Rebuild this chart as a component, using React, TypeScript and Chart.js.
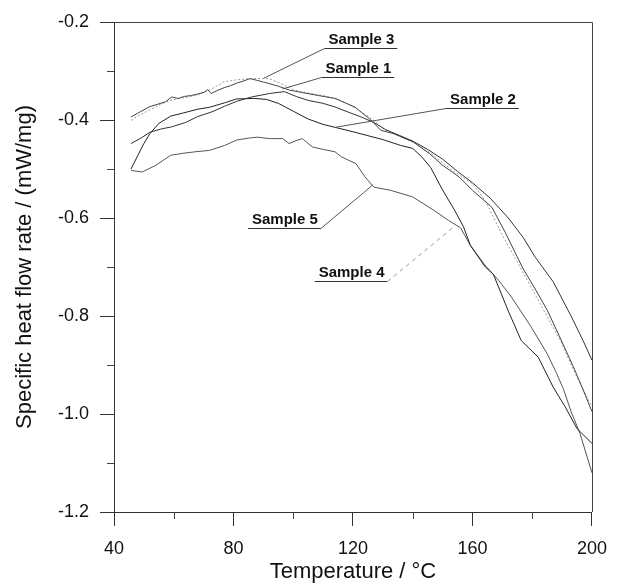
import React, { useEffect, useRef } from "react";
import { Chart, registerables } from "chart.js";

Chart.register(...registerables);

// ---- data ----
const S1_T = [45.7, 49, 52, 56, 59.3, 64, 68, 72.5, 77, 81, 86, 92, 97, 101, 105, 110, 114, 118, 122.8, 127, 131, 135, 140, 145, 150, 155, 160, 166, 172, 177, 181, 187, 193, 197, 200];
const S1_V = [-0.448, -0.437, -0.425, -0.418, -0.414, -0.405, -0.393, -0.384, -0.372, -0.362, -0.353, -0.346, -0.342, -0.352, -0.36, -0.366, -0.3735, -0.383, -0.394, -0.405, -0.42, -0.43, -0.443, -0.46, -0.48, -0.505, -0.528, -0.56, -0.6, -0.64, -0.68, -0.73, -0.8, -0.85, -0.89];

const S2_T = [45.7, 48, 50, 52, 55, 59, 63, 68, 72, 77, 81, 87, 91, 95, 100, 105, 110, 114, 120, 125, 130, 136, 140, 143, 146, 150, 154, 157, 159.3, 164.3, 167, 172, 176.3, 182, 187, 191, 195, 200];
const S2_V = [-0.5, -0.472, -0.448, -0.428, -0.407, -0.392, -0.386, -0.378, -0.374, -0.365, -0.357, -0.356, -0.358, -0.366, -0.382, -0.398, -0.409, -0.415, -0.424, -0.432, -0.44, -0.452, -0.458, -0.475, -0.497, -0.543, -0.584, -0.618, -0.656, -0.7, -0.715, -0.79, -0.85, -0.884, -0.945, -0.985, -1.03, -1.06];

const S3_T = [45.7, 48, 51.7, 54, 57.2, 59.3, 61.5, 63.5, 65.9, 68, 70.3, 71.4, 72.5, 74.5, 76.9, 79, 81.2, 83.5, 85.6, 87.8, 90, 92.1, 95, 98.7, 103, 108.4, 114, 120.6, 126, 129.3, 133.7, 140.2, 145.7, 150, 155.5, 160, 166.5, 171, 176.9, 181, 185, 189, 193.8, 197, 200];
const S3_V = [-0.394, -0.386, -0.3735, -0.369, -0.363, -0.353, -0.356, -0.352, -0.35, -0.347, -0.343, -0.338, -0.346, -0.34, -0.334, -0.33, -0.3245, -0.32, -0.3155, -0.319, -0.3225, -0.326, -0.331, -0.339, -0.344, -0.35, -0.356, -0.3735, -0.4, -0.421, -0.428, -0.445, -0.469, -0.4925, -0.516, -0.5435, -0.578, -0.63, -0.703, -0.745, -0.788, -0.84, -0.904, -0.95, -0.995];

const S4_T = [45.7, 48, 51.8, 55.5, 59.4, 64, 68.2, 72.5, 76.9, 81, 85.6, 92, 96, 100, 105, 110, 115, 120.6, 126, 130.4, 135, 140.2, 146, 153.3, 160, 164.3, 170, 175, 179.6, 184, 189.4, 194.9, 200];
const S4_V = [-0.401, -0.392, -0.38, -0.368, -0.359, -0.354, -0.349, -0.337, -0.322, -0.318, -0.3155, -0.3155, -0.326, -0.338, -0.345, -0.35, -0.358, -0.375, -0.396, -0.419, -0.432, -0.445, -0.468, -0.503, -0.53, -0.565, -0.635, -0.69, -0.741, -0.79, -0.85, -0.924, -0.985];

const S5_T = [45.7, 49.5, 54, 59, 63, 67, 72, 77, 81, 85, 88, 92, 96.5, 98.6, 101, 103, 106.4, 110, 114, 116.2, 121, 124, 127, 132.6, 140, 147, 152, 156, 159.3, 164, 168.7, 173, 179.6, 185, 188, 190.5, 193, 196, 200];
const S5_V = [-0.503, -0.506, -0.4925, -0.472, -0.468, -0.465, -0.462, -0.452, -0.441, -0.437, -0.435, -0.438, -0.438, -0.448, -0.442, -0.438, -0.455, -0.46, -0.465, -0.4755, -0.489, -0.516, -0.537, -0.5435, -0.557, -0.584, -0.605, -0.62, -0.656, -0.695, -0.727, -0.761, -0.822, -0.877, -0.915, -0.95, -0.995, -1.04, -1.12];

// axis ticks
const X_MIN = 40, X_MAX = 200, X_STEP = 40;
const Y_MIN = -1.2, Y_MAX = -0.2, Y_STEP = 0.2;
const X_MINOR = [60, 100, 140, 180];
const Y_MINOR = [-0.3, -0.5, -0.7, -0.9, -1.1];

// annotations: label, text anchor (x, y in data units), leader target, leader side
const LABELS = ["Sample 3", "Sample 1", "Sample 2", "Sample 5", "Sample 4"];
const LABEL_AT: [number, number][] = [[111.8, -0.2455], [110.8, -0.3047], [152.5, -0.368], [86.2, -0.6122], [108.5, -0.7204]];
const LEADER_TO: [number, number][] = [[90.1, -0.3149], [96.4, -0.3367], [114.1, -0.4149], [126.6, -0.5327], [154.1, -0.6163]];
const LEADER_SIDE = ["left", "left", "left", "right", "right"];

const FONT = "Arial, 'Liberation Sans', Helvetica, sans-serif";

const pts = (t: number[], v: number[]) => t.map((x, i) => ({ x, y: v[i] }));

const decorPlugin = {
  id: "decor",
  afterDraw(chart: any) {
    const { ctx, chartArea: a, scales } = chart;
    const xs = scales.x, ys = scales.y;
    ctx.save();
    ctx.strokeStyle = "#444";
    ctx.lineWidth = 1;
    // top & right frame
    ctx.beginPath();
    ctx.moveTo(a.left, Math.round(a.top) + 0.5);
    ctx.lineTo(Math.round(a.right) + 0.5, Math.round(a.top) + 0.5);
    ctx.lineTo(Math.round(a.right) + 0.5, a.bottom);
    ctx.stroke();
    // minor ticks
    ctx.beginPath();
    Y_MINOR.forEach((v) => {
      const py = Math.round(ys.getPixelForValue(v)) + 0.5;
      ctx.moveTo(a.left - 7, py);
      ctx.lineTo(a.left, py);
    });
    X_MINOR.forEach((t) => {
      const px = Math.round(xs.getPixelForValue(t)) + 0.5;
      ctx.moveTo(px, a.bottom);
      ctx.lineTo(px, a.bottom + 7);
    });
    ctx.stroke();
    // labels
    ctx.font = `bold 15px ${FONT}`;
    ctx.textAlign = "left";
    ctx.textBaseline = "alphabetic";
    LABELS.forEach((lab, i) => {
      const tx = xs.getPixelForValue(LABEL_AT[i][0]);
      const ty = ys.getPixelForValue(LABEL_AT[i][1]);
      const w = ctx.measureText(lab).width;
      ctx.fillStyle = "#111";
      ctx.fillText(lab, tx, ty);
      const uy = Math.round(ty + 4) + 0.5;
      const ux0 = tx - 4, ux1 = tx + w + 3;
      ctx.strokeStyle = "#333";
      ctx.setLineDash([]);
      ctx.beginPath();
      ctx.moveTo(ux0, uy);
      ctx.lineTo(ux1, uy);
      ctx.stroke();
      const sx = LEADER_SIDE[i] === "left" ? ux0 : ux1;
      const ex = xs.getPixelForValue(LEADER_TO[i][0]);
      const ey = ys.getPixelForValue(LEADER_TO[i][1]);
      if (lab === "Sample 4") {
        ctx.strokeStyle = "#999";
        ctx.setLineDash([4, 4]);
      } else {
        ctx.strokeStyle = "#555";
      }
      ctx.beginPath();
      ctx.moveTo(sx, uy);
      ctx.lineTo(ex, ey);
      ctx.stroke();
    });
    ctx.restore();
  },
};

export default function App() {
  const ref = useRef<HTMLCanvasElement | null>(null);
  useEffect(() => {
    if (!ref.current) return;
    const line = (label: string, t: number[], v: number[], color: string, dash: number[] = []) => ({
      label,
      data: pts(t, v),
      borderColor: color,
      borderWidth: 1,
      borderDash: dash,
      pointRadius: 0,
      tension: 0,
      fill: false,
    });
    const chart = new Chart(ref.current, {
      type: "line",
      data: {
        datasets: [
          line("Sample 1", S1_T, S1_V, "#333"),
          line("Sample 2", S2_T, S2_V, "#222"),
          line("Sample 3", S3_T, S3_V, "#444"),
          line("Sample 4", S4_T, S4_V, "#9a9a9a", [2, 2]),
          line("Sample 5", S5_T, S5_V, "#555"),
        ] as any,
      },
      options: {
        animation: false,
        responsive: false,
        devicePixelRatio: 1,
        parsing: true,
        layout: { padding: { left: 0, top: 22, right: 17, bottom: 0 } },
        plugins: { legend: { display: false }, tooltip: { enabled: false } },
        scales: {
          x: {
            type: "linear",
            min: X_MIN,
            max: X_MAX,
            afterFit: (s: any) => { s.height = 72; },
            ticks: { stepSize: X_STEP, color: "#111", padding: 12, maxRotation: 0, font: { family: FONT, size: 18 } },
            grid: { drawOnChartArea: false, drawTicks: true, tickLength: 14, color: "#333" },
            border: { display: true, color: "#333", width: 1 },
            title: { display: true, text: "Temperature / °C", color: "#111", padding: { top: 0, bottom: 0 }, font: { family: FONT, size: 22, lineHeight: 1.1 } },
          },
          y: {
            type: "linear",
            min: Y_MIN,
            max: Y_MAX,
            afterFit: (s: any) => { s.width = 114; },
            ticks: { stepSize: Y_STEP, color: "#111", padding: 11, font: { family: FONT, size: 18 }, callback: (v: any) => Number(v).toFixed(1) },
            grid: { drawOnChartArea: false, drawTicks: true, tickLength: 14, color: "#333" },
            border: { display: true, color: "#333", width: 1 },
            title: { display: true, text: "Specific heat flow rate / (mW/mg)", color: "#111", padding: { top: 13, bottom: 0 }, font: { family: FONT, size: 22, lineHeight: 1.1 } },
          },
        },
      } as any,
      plugins: [decorPlugin],
    });
    return () => chart.destroy();
  }, []);
  return (
    <div style={{ position: "absolute", left: 0, top: 0, width: 619, height: 584, background: "#fff" }}>
      <canvas ref={ref} width={619} height={584} style={{ display: "block" }} />
    </div>
  );
}
